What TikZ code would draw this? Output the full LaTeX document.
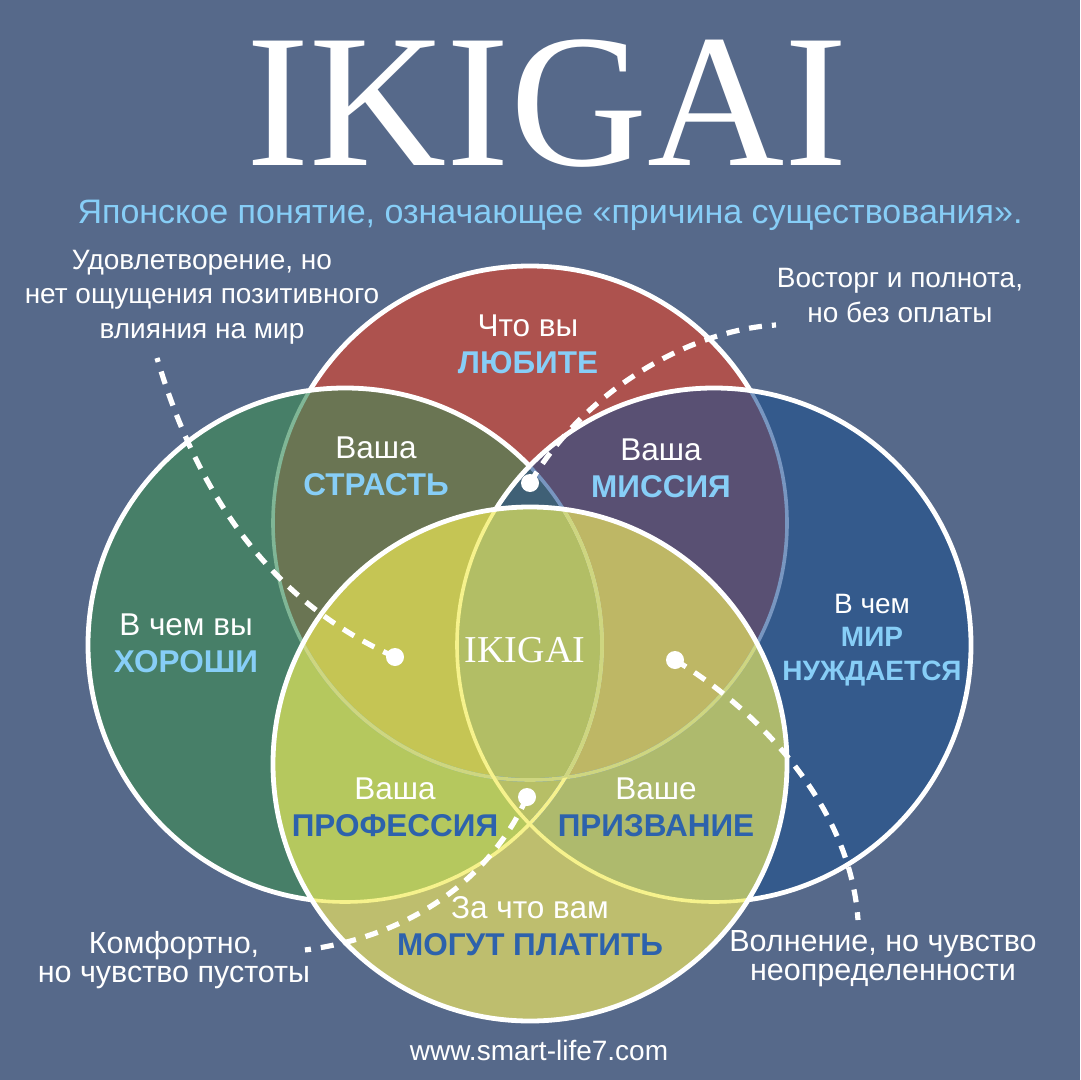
\documentclass[tikz,border=0pt]{standalone}
\usepackage{fontspec}
\setmainfont{Liberation Sans}
\newfontfamily\titlefont{Liberation Serif}
\usetikzlibrary{calc,positioning}

\definecolor{bgcol}{RGB}{86,105,138}
\definecolor{lovecol}{RGB}{173,82,78}
\definecolor{goodcol}{RGB}{71,127,104}
\definecolor{needcol}{RGB}{52,90,140}
\definecolor{paidcol}{RGB}{190,190,110}
\definecolor{passioncol}{RGB}{106,117,83}
\definecolor{missioncol}{RGB}{89,80,115}
\definecolor{professioncol}{RGB}{181,200,94}
\definecolor{vocationcol}{RGB}{174,186,109}
\definecolor{topcol}{RGB}{63,96,118}
\definecolor{lowcol}{RGB}{183,191,102}
\definecolor{profpascol}{RGB}{197,197,84}
\definecolor{vocmiscol}{RGB}{190,183,101}
\definecolor{ikigaicol}{RGB}{178,190,101}
\definecolor{skytext}{RGB}{135,206,247}
\definecolor{navytext}{RGB}{45,98,172}
\definecolor{greenedge}{RGB}{128,182,150}
\definecolor{blueedge}{RGB}{120,150,192}
\definecolor{yellowedge}{RGB}{246,242,140}
\definecolor{paleedge}{RGB}{206,214,128}

\newcommand{\rr}{128.5pt}
\newcommand{\keysky}[1]{{\bfseries\color{skytext}#1}}
\newcommand{\keynavy}[1]{{\bfseries\color{navytext}#1}}

\begin{document}
\begin{tikzpicture}[x=0.5pt, y=-0.5pt,
    rim/.style={draw=white, line width=2.4pt},
    inner rim/.style={line width=1.8pt},
    aside text/.style={text=white, align=center, inner sep=0pt, anchor=base,
        font=\fontsize{14}{17.25}\selectfont},
    tag text/.style={text=white, align=center, inner sep=0pt, anchor=base,
        font=\fontsize{15.75}{18.5}\selectfont},
    leader/.style={draw=white, line width=2.6pt, dash pattern=on 6.5pt off 5pt},
    dot/.style={circle, fill=white, inner sep=0pt, minimum size=9pt}
  ]

  \useasboundingbox (0,0) rectangle (1080,1080);
  \fill [bgcol] (0,0) rectangle (1080,1080);

  \coordinate (love) at (530,523);
  \coordinate (good) at (345,645);
  \coordinate (need) at (714,645);
  \coordinate (paid) at (530,764);

  %%%%%%%%%%%%%%%%%%%%%%%%%%%%%%

  \fill [lovecol] (love) circle [radius=\rr];
  \fill [goodcol] (good) circle [radius=\rr];
  \fill [needcol] (need) circle [radius=\rr];
  \fill [paidcol] (paid) circle [radius=\rr];
  \begin{scope}
    \clip (love) circle [radius=\rr];
    \fill [passioncol] (good) circle [radius=\rr];
    \fill [missioncol] (need) circle [radius=\rr];
  \end{scope}
  \begin{scope}
    \clip (paid) circle [radius=\rr];
    \fill [professioncol] (good) circle [radius=\rr];
    \fill [vocationcol] (need) circle [radius=\rr];
  \end{scope}
  \begin{scope}
    \clip (good) circle [radius=\rr];
    \clip (need) circle [radius=\rr];
    \fill [topcol] (love) circle [radius=\rr];
    \fill [lowcol] (paid) circle [radius=\rr];
  \end{scope}
  \begin{scope}
    \clip (love) circle [radius=\rr];
    \clip (paid) circle [radius=\rr];
    \fill [profpascol] (good) circle [radius=\rr];
    \fill [vocmiscol] (need) circle [radius=\rr];
    \clip (good) circle [radius=\rr];
    \fill [ikigaicol] (need) circle [radius=\rr];
  \end{scope}

  %%%%%%%%%%%%%%%%%%%%%%%%%%%%%%

  \begin{scope}
    \clip (good) circle [radius=\rr];
    \draw [inner rim, greenedge] (love) circle [radius=\rr];
  \end{scope}
  \begin{scope}
    \clip (need) circle [radius=\rr];
    \draw [inner rim, blueedge] (love) circle [radius=\rr];
    \draw [inner rim, blueedge] (good) circle [radius=\rr];
  \end{scope}
  \begin{scope}
    \clip (paid) circle [radius=\rr];
    \draw [inner rim, paleedge] (love) circle [radius=\rr];
    \draw [inner rim, yellowedge] (good) circle [radius=\rr];
    \draw [inner rim, yellowedge] (need) circle [radius=\rr];
    \clip (love) circle [radius=\rr];
    \draw [inner rim, paleedge] (good) circle [radius=\rr];
  \end{scope}
  \begin{scope}[even odd rule]
    \clip (0,0) rectangle (1080,1080) (paid) circle [radius=\rr];
    \draw [rim] (need) circle [radius=\rr];
    \clip (0,0) rectangle (1080,1080) (need) circle [radius=\rr];
    \draw [rim] (good) circle [radius=\rr];
    \clip (0,0) rectangle (1080,1080) (good) circle [radius=\rr];
    \draw [rim] (love) circle [radius=\rr];
  \end{scope}
  \draw [rim] (paid) circle [radius=\rr];

  %%%%%%%%%%%%%%%%%%%%%%%%%%%%%%

  \node [dot] (dotpassion) at (395,657) {};
  \node [dot] (dotmission) at (530,483) {};
  \node [dot] (dotvocation) at (675,660) {};
  \node [dot] (dotprofession) at (527,797) {};
  \coordinate (endpassion) at (157,358);
  \coordinate (endmission) at (776,325);
  \coordinate (endvocation) at (858,920);
  \coordinate (endprofession) at (305,950);

  \draw [leader] (dotpassion.center) .. controls (290,610) and (205,520) .. (endpassion);
  \draw [leader] (dotmission.center) .. controls (585,390) and (690,330) .. (endmission);
  \draw [leader] (dotvocation.center) .. controls (750,705) and (850,800) .. (endvocation);
  \draw [leader] (dotprofession.center) .. controls (495,870) and (420,935) .. (endprofession);

  %%%%%%%%%%%%%%%%%%%%%%%%%%%%%%

  \node [text=white, inner sep=0pt, anchor=base,
    font=\titlefont\fontsize{95}{95}\selectfont
  ] (title) at (547,166) {IKIGAI};

  \node [text=skytext, inner sep=0pt, anchor=base,
    font=\fontsize{17}{20}\selectfont
  ] (subtitle) at (550,224) {Японское понятие, означающее «причина существования».};

  \node [text=white, inner sep=0pt, anchor=base,
    font=\titlefont\fontsize{19}{19}\selectfont
  ] (core) at (525,662) {IKIGAI};

  % base of a multi-line node = its last line
  \node [aside text] (satisfy) at (202,338) {Удовлетворение, но\\нет ощущения позитивного\\влияния на мир};
  \node [aside text] (delight) at (900,322) {Восторг и полнота,\\но без оплаты};
  \node [aside text,
    font=\fontsize{15.25}{14.5}\selectfont
  ] (comfort) at (174,982) {Комфортно,\\но чувство пустоты};
  \node [aside text,
    font=\fontsize{15.25}{14.5}\selectfont
  ] (unsure) at (883,980) {Волнение, но чувство\\неопределенности};
  \node [aside text] (site) at (539,1060) {www.smart-life7.com};

  \node [tag text] (lovetag) at (528,373) {Что вы\\\keysky{ЛЮБИТЕ}};
  \node [tag text] (goodtag) at (186,672) {В чем вы\\\keysky{ХОРОШИ}};
  \node [tag text,
    font=\fontsize{14}{16.75}\selectfont
  ] (needtag) at (872,680) {В чем\\\keysky{МИР}\\\keysky{НУЖДАЕТСЯ}};
  \node [tag text] (paidtag) at (530,955) {За что вам\\\keynavy{МОГУТ ПЛАТИТЬ}};
  \node [tag text] (passiontag) at (376,495) {Ваша\\\keysky{СТРАСТЬ}};
  \node [tag text] (missiontag) at (661,497) {Ваша\\\keysky{МИССИЯ}};
  \node [tag text] (professiontag) at (395,836) {Ваша\\\keynavy{ПРОФЕССИЯ}};
  \node [tag text] (vocationtag) at (656,836) {Ваше\\\keynavy{ПРИЗВАНИЕ}};

\end{tikzpicture}
\end{document}
